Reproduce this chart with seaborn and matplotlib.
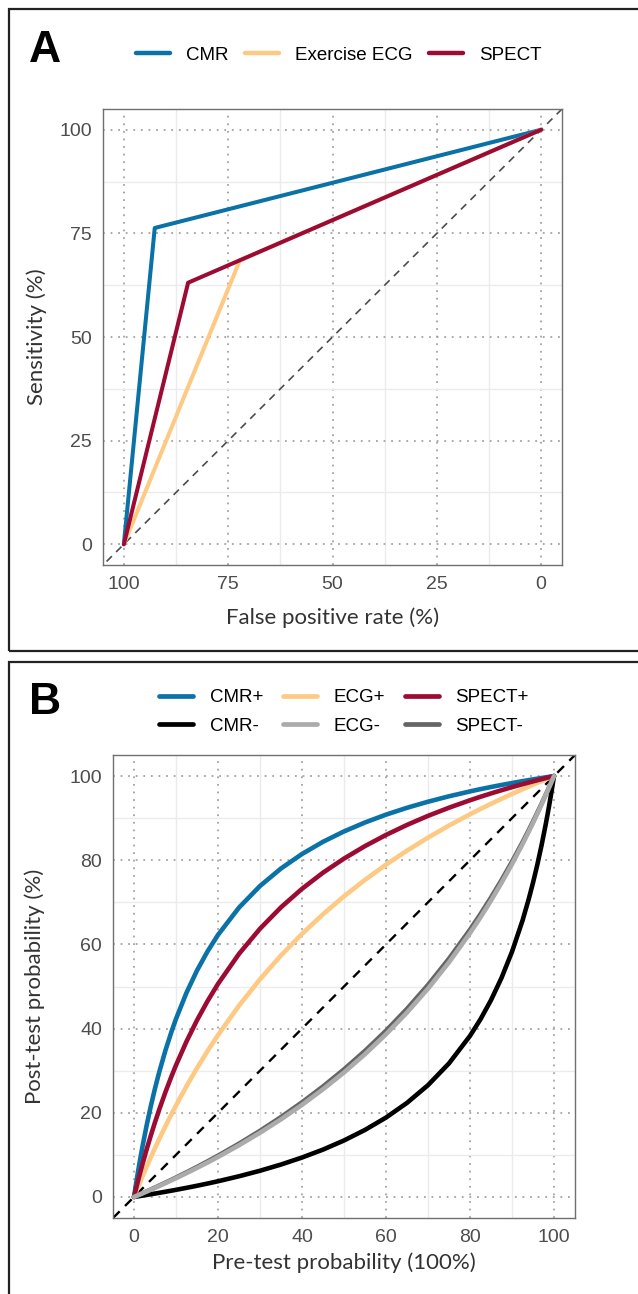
import matplotlib
matplotlib.use("Agg")
import matplotlib.pyplot as plt
from matplotlib.lines import Line2D
from matplotlib.patches import Rectangle
import seaborn as sns
import pandas as pd

# ---------------- data ----------------
# Panel A: ROC-style polylines
roc_tests = ["CMR", "Exercise ECG", "SPECT"]
roc_x = {"CMR": [100, 92.6, 0], "Exercise ECG": [100, 72.2, 0], "SPECT": [100, 84.6, 0]}
roc_y = {"CMR": [0, 76.3, 100], "Exercise ECG": [0, 68.5, 100], "SPECT": [0, 63.1, 100]}
roc_colors = {"CMR": "#0A72A6", "Exercise ECG": "#FDC983", "SPECT": "#9B0B34"}

# Panel B: post-test probability curves
pre = [0, 0.5, 1, 1.5, 2, 3, 4, 5, 6, 7.5, 9, 10, 12.5, 15, 17.5, 20, 25, 30, 35, 40, 45,
       50, 55, 60, 65, 70, 75, 80, 82.5, 85, 87.5, 90, 92.5, 94, 95, 96, 97, 98, 98.5,
       99, 99.5, 100]
cmr_pos = [0, 3.21, 6.25, 9.13, 11.87, 16.95, 21.57, 25.78, 29.64, 34.86, 39.49, 42.31,
           48.53, 53.80, 58.33, 62.26, 68.75, 73.88, 78.04, 81.48, 84.38, 86.84, 88.97,
           90.83, 92.46, 93.90, 95.19, 96.35, 96.89, 97.40, 97.88, 98.34, 98.79, 99.04,
           99.21, 99.37, 99.53, 99.69, 99.77, 99.85, 99.92, 100]
ecg_pos = [0, 1.24, 2.46, 3.67, 4.85, 7.18, 9.43, 11.63, 13.76, 16.85, 19.82, 21.74,
           26.32, 30.61, 34.65, 38.46, 45.45, 51.72, 57.38, 62.50, 67.16, 71.43, 75.34,
           78.95, 82.28, 85.37, 88.24, 90.91, 92.18, 93.41, 94.59, 95.74, 96.86, 97.51,
           97.94, 98.36, 98.78, 99.19, 99.39, 99.60, 99.80, 100]
spect_pos = [0, 2.02, 3.98, 5.88, 7.72, 11.25, 14.59, 17.75, 20.74, 24.95, 28.85, 31.30,
             36.94, 41.98, 46.52, 50.62, 57.75, 63.73, 68.82, 73.21, 77.04, 80.39, 83.36,
             86.01, 88.39, 90.54, 92.48, 94.25, 95.08, 95.87, 96.63, 97.36, 98.06, 98.47,
             98.73, 98.99, 99.25, 99.50, 99.63, 99.75, 99.88, 100]
cmr_neg = [0, 0.078, 0.156, 0.235, 0.315, 0.477, 0.642, 0.809, 0.980, 1.241, 1.510, 1.693,
           2.166, 2.662, 3.183, 3.730, 4.913, 6.229, 7.703, 9.366, 11.25, 13.42, 15.93,
           18.86, 22.35, 26.56, 31.74, 38.27, 42.22, 46.76, 52.04, 58.25, 65.66, 70.83,
           74.65, 78.81, 83.37, 88.37, 91.05, 93.88, 96.86, 100]
ecg_neg = [0, 0.211, 0.422, 0.636, 0.850, 1.282, 1.720, 2.163, 2.611, 3.293, 3.988, 4.459,
           5.660, 6.900, 8.180, 9.502, 12.28, 15.25, 18.44, 21.88, 25.58, 29.58, 33.92,
           38.65, 43.82, 49.49, 55.75, 62.69, 66.44, 70.41, 74.62, 79.08, 83.82, 86.81,
           88.86, 90.97, 93.14, 95.37, 96.50, 97.65, 98.82, 100]
spect_neg = [0, 0.218, 0.437, 0.658, 0.880, 1.328, 1.780, 2.238, 2.702, 3.407, 4.125, 4.611,
             5.851, 7.129, 8.448, 9.808, 12.66, 15.71, 18.98, 22.48, 26.25, 30.31, 34.71,
             39.49, 44.69, 50.37, 56.62, 63.50, 67.22, 71.14, 75.28, 79.65, 84.29, 87.20,
             89.21, 91.26, 93.36, 95.52, 96.62, 97.73, 98.86, 100]
post_series = {"CMR+": cmr_pos, "ECG+": ecg_pos, "SPECT+": spect_pos,
               "CMR-": cmr_neg, "SPECT-": spect_neg, "ECG-": ecg_neg}
post_colors = {"CMR+": "#0A72A6", "ECG+": "#FDC983", "SPECT+": "#9B0B34",
               "CMR-": "#000000", "ECG-": "#ABABAB", "SPECT-": "#656565"}
legend_order_B = ["CMR+", "CMR-", "ECG+", "ECG-", "SPECT+", "SPECT-"]

ticks_A = [0, 25, 50, 75, 100]
minor_A = [12.5, 37.5, 62.5, 87.5]
ticks_B = [0, 20, 40, 60, 80, 100]
minor_B = [10, 30, 50, 70, 90]

# ---------------- style ----------------
sns.set_style("white")
plt.rcParams["font.family"] = ["Liberation Sans", "DejaVu Sans"]
TITLE_FONT = ["Lato", "DejaVu Sans"]
TICK_COLOR = "#4D4D4D"

W, H = 638, 1294
fig = plt.figure(figsize=(W / 100, H / 100), dpi=100)

# outer panel boxes
fig.patches.append(Rectangle((9 / W, 1 - 651 / H), 1.2, (651 - 9) / H,
                             transform=fig.transFigure, fill=False, lw=1.6,
                             edgecolor="#222222", zorder=0))
fig.patches.append(Rectangle((9 / W, -0.05), 1.2, 0.05 + 1 - 662 / H,
                             transform=fig.transFigure, fill=False, lw=1.6,
                             edgecolor="#222222", zorder=0))

axA = fig.add_axes([103 / W, 1 - 565 / H, (562 - 103) / W, (565 - 109) / H])
axB = fig.add_axes([113 / W, 1 - 1218 / H, (575 - 113) / W, (1218 - 755) / H])


def style_axis(ax, major, minor):
    ax.set_xticks(major)
    ax.set_yticks(major)
    ax.set_xticks(minor, minor=True)
    ax.set_yticks(minor, minor=True)
    ax.set_axisbelow(True)
    ax.grid(which="minor", color="#EBEBEB", lw=1.0, ls="-")
    ax.grid(which="major", color="#A3A3A3", lw=1.3, ls=(0, (1, 3.2)))
    ax.tick_params(which="minor", length=0)
    ax.tick_params(which="major", length=5, width=1.2, color="#333333",
                   labelsize=14, labelcolor=TICK_COLOR, pad=3)
    for s in ax.spines.values():
        s.set_color("#707070")
        s.set_linewidth(1.0)
        s.set_visible(True)


# ---------------- Panel A ----------------
dfA = pd.DataFrame([(t, x, y) for t in roc_tests for x, y in zip(roc_x[t], roc_y[t])],
                   columns=["test", "fpr", "sens"])
sns.lineplot(data=dfA, x="fpr", y="sens", hue="test", palette=roc_colors,
             hue_order=roc_tests, sort=False, estimator=None, lw=2.9,
             legend=False, ax=axA, zorder=3)
axA.axline((0, 100), slope=-1, color="#4D4D4D", lw=1.2, dashes=(4.5, 3.6), zorder=2)
axA.set_xlim(105, -5)
axA.set_ylim(-5, 105)
style_axis(axA, ticks_A, minor_A)
axA.set_xlabel("False positive rate (%)", family=TITLE_FONT, fontsize=16, color="#333333")
axA.set_ylabel("Sensitivity (%)", family=TITLE_FONT, fontsize=16, color="#333333")
axA.xaxis.set_label_coords(0.5, -(618 - 565) / 456)
axA.xaxis.label.set_va("center")
axA.yaxis.set_label_coords(-(103 - 37) / 459, 0.5)
axA.yaxis.label.set_va("center")

handlesA = [Line2D([], [], color=roc_colors[t], lw=3.2) for t in roc_tests]
fig.legend(handlesA, roc_tests, ncol=3, loc="center",
           bbox_to_anchor=(339 / W, 1 - 55 / H), frameon=False, fontsize=13.5,
           handlelength=1.8, handletextpad=0.85, columnspacing=0.9, labelcolor="black")
fig.text(29 / W, 1 - 50 / H, "A", fontsize=32, fontweight="bold", va="center",
         ha="left", color="black")

# ---------------- Panel B ----------------
dfB = pd.DataFrame([(k, p, v) for k, vals in post_series.items() for p, v in zip(pre, vals)],
                   columns=["result", "pre", "post"])
sns.lineplot(data=dfB, x="pre", y="post", hue="result", palette=post_colors,
             hue_order=list(post_series.keys()), sort=False, estimator=None,
             lw=3.3, legend=False, ax=axB, zorder=3)
axB.axline((0, 0), slope=1, color="black", lw=1.7, dashes=(4, 3.2), zorder=2)
axB.set_xlim(-5, 105)
axB.set_ylim(-5, 105)
style_axis(axB, ticks_B, minor_B)
axB.set_xlabel("Pre-test probability (100%)", family=TITLE_FONT, fontsize=16, color="#333333")
axB.set_ylabel("Post-test probability (%)", family=TITLE_FONT, fontsize=16, color="#333333")
axB.xaxis.set_label_coords(0.5, -(1263 - 1218) / 463)
axB.xaxis.label.set_va("center")
axB.yaxis.set_label_coords(-(113 - 35) / 462, 0.5)
axB.yaxis.label.set_va("center")

handlesB = [Line2D([], [], color=post_colors[k], lw=3.4) for k in legend_order_B]
fig.legend(handlesB, legend_order_B, ncol=3, loc="center",
           bbox_to_anchor=(344 / W, 1 - 712 / H), frameon=False, fontsize=13.5,
           handlelength=1.8, handletextpad=0.9, columnspacing=1.05, labelspacing=0.6,
           labelcolor="black")
fig.text(29 / W, 1 - 702 / H, "B", fontsize=32, fontweight="bold", va="center",
         ha="left", color="black")

fig.savefig("out.png", dpi=100)
